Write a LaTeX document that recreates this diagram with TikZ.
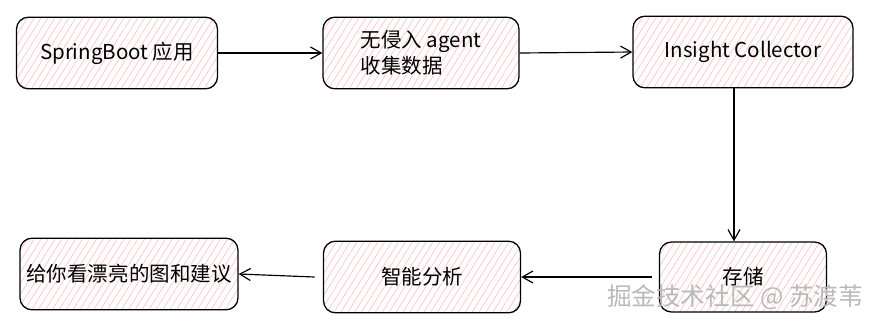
\documentclass[tikz,border=0pt]{standalone}
\usepackage{fontspec}
\setmainfont{Noto Sans CJK SC}
\usepackage{tikz}
\usetikzlibrary{arrows.meta, positioning, patterns.meta}

\begin{document}
\begin{tikzpicture}[x=0.03cm, y=-0.03cm,
    card/.style={draw, line width=1.1pt, rounded corners=0.36cm, minimum height=2.15cm,
        pattern={Lines[angle=58, distance=5pt, line width=0.45pt]}, pattern color=red!28,
        font=\fontsize{17.5}{22}\selectfont, inner sep=2pt},
    flow/.style={-{Straight Barb[length=3.2mm, width=3.6mm]}, line width=1pt}]
            \useasboundingbox (0,0) rectangle (881,327);
            % SpringBoot app
            \node[card, minimum width=6.03cm] (app) at (117,53) {SpringBoot 应用};
            % agent
            \node[card, minimum width=5.88cm, align=left] (agent) at (421,53) {无侵入 agent\\收集数据};
            % collector
            \node[card, minimum width=6.6cm] (collector) at (743,52) {Insight Collector};
            % storage
            \node[card, minimum width=5.01cm, minimum height=2.1cm] (store) at (743,277) {存储};
            % analysis
            \node[card, minimum width=5.91cm] (analysis) at (422,277) {智能分析};
            % result
            \node[card, minimum width=6.54cm] (report) at (129,274) {给你看漂亮的图和建议};
            % Arrows
            \draw[flow] (app) -- (agent);
            \draw[flow] (agent.east) -- (collector.west);
            \draw[flow] ([xshift=-0.27cm]collector.south) -- ([xshift=-0.27cm]store.north);
            \draw[flow] ([xshift=-0.2cm]store.west) -- (analysis.east);
            \draw[flow] ([xshift=-0.25cm]analysis.west) -- (report.east);
            % watermark
            \node[text=gray!55, font=\fontsize{21}{24}\selectfont] (mark) at (735,297) {掘金技术社区 @ 苏渡苇};
        \end{tikzpicture}
\end{document}
